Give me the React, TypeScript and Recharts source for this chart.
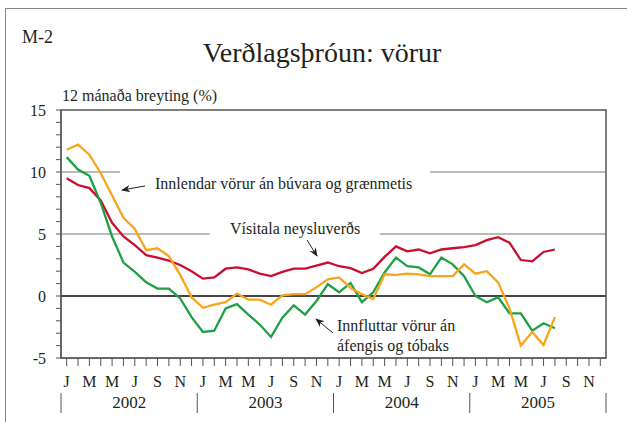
import {
  LineChart,
  Line,
  XAxis,
  YAxis,
  ReferenceLine,
  ReferenceArea,
} from "recharts";

// Jan 2002 .. Aug 2005, 12-month change (%)
const years = ["2002", "2003", "2004", "2005"];
const monthLetters = ["J", "F", "M", "A", "M", "J", "J", "Á", "S", "O", "N", "D"];

const cpi = [
  9.5, 8.95, 8.7, 7.7, 5.9, 4.8, 4.1, 3.3, 3.1, 2.85,
  2.5, 2.0, 1.4, 1.5, 2.2, 2.3, 2.15, 1.8, 1.6, 1.95,
  2.2, 2.2, 2.45, 2.7, 2.4, 2.25, 1.85, 2.2, 3.15, 4.0,
  3.6, 3.75, 3.45, 3.75, 3.85, 3.95, 4.1, 4.5, 4.75, 4.3,
  2.9, 2.8, 3.55, 3.75,
];
const domestic = [
  11.8, 12.2, 11.4, 9.9, 8.1, 6.3, 5.4, 3.7, 3.85, 3.2,
  1.7, -0.1, -0.95, -0.7, -0.5, 0.2, -0.3, -0.3, -0.7, 0.05,
  0.15, 0.15, 0.7, 1.35, 1.5, 0.65, 0.15, -0.25, 1.75, 1.7,
  1.8, 1.75, 1.6, 1.6, 1.6, 2.55, 1.8, 2.0, 1.1, -1.0,
  -4.0, -2.9, -3.95, -1.7,
];
const imported = [
  11.2, 10.2, 9.7, 7.5, 4.8, 2.7, 1.95, 1.1, 0.6, 0.6,
  -0.2, -1.7, -2.9, -2.8, -1.0, -0.65, -1.5, -2.3, -3.3, -1.75,
  -0.75, -1.5, -0.4, 0.95, 0.3, 1.05, -0.5, 0.3, 1.9, 3.1,
  2.4, 2.3, 1.75, 3.1, 2.55, 1.6, 0.0, -0.5, -0.1, -1.4,
  -1.4, -2.8, -2.2, -2.6,
];

const yTicks = Array.from({ length: 21 }, (_, k) => k - 5);
const nMonths = years.length * 12;
const monthTicks = Array.from({ length: nMonths }, (_, k) => k);
const yearTicks = [
  ...years.map((_, k) => k * 12 - 0.5),
  nMonths - 0.5,
  ...years.map((_, k) => k * 12 + 5.5),
];

const data = cpi.map((v, i) => ({
  i,
  cpi: v,
  domestic: domestic[i],
  imported: imported[i],
}));

const ink = "#231f20";
const font = "Liberation Serif, Times New Roman, DejaVu Serif, serif";

function YearTick(props: any) {
  const { x, y, payload } = props;
  const v = payload.value as number;
  if ((v + 0.5) % 12 === 0) {
    return <line x1={x} x2={x} y1={y + 5} y2={y + 25} stroke="#555" strokeWidth={1} />;
  }
  const k = Math.round((v - 5.5) / 12);
  return (
    <text x={x} y={y + 20} textAnchor="middle" fontSize={17} fill={ink} style={{ fontFamily: font }}>
      {years[k]}
    </text>
  );
}

export default function App() {
  return (
    <div
      style={{
        position: "absolute",
        left: 0,
        top: 0,
        width: 627,
        height: 422,
        background: "#fff",
        fontFamily: font,
      }}
    >
      <LineChart
        width={627}
        height={422}
        data={data}
        margin={{ top: 110, right: 21, left: 11, bottom: 4 }}
        style={{ fontFamily: font }}
      >
        <XAxis
          dataKey="i"
          type="number"
          domain={[-0.5, nMonths - 0.5]}
          allowDataOverflow
          ticks={monthTicks}
          interval={0}
          height={30}
          tickSize={8}
          tickMargin={10}
          stroke="#555"
          tickFormatter={(v: number) => (v % 2 === 0 ? monthLetters[v % 12] : "")}
          tick={{ fontSize: 16, fill: ink, style: { fontFamily: font } }}
        />
        <XAxis
          xAxisId="yr"
          dataKey="i"
          type="number"
          domain={[-0.5, nMonths - 0.5]}
          allowDataOverflow
          ticks={yearTicks}
          interval={0}
          height={30}
          axisLine={false}
          tickLine={false}
          tickSize={0}
          tickMargin={0}
          tick={<YearTick />}
        />
        <YAxis
          domain={[-5, 15]}
          ticks={yTicks}
          interval={0}
          width={50}
          tickSize={5}
          tickMargin={10}
          stroke="#555"
          tickFormatter={(v: number) => (v % 5 === 0 ? String(v) : "")}
          tick={{ fontSize: 16, fill: ink, style: { fontFamily: font } }}
        />
        <ReferenceArea
          x1={-0.5}
          x2={nMonths - 0.5}
          y1={-5}
          y2={15}
          fill="none"
          stroke="#555"
          strokeWidth={1.5}
        />
        <ReferenceLine segment={[{ x: -0.5, y: 10 }, { x: 4.7, y: 10 }]} stroke="#777" />
        <ReferenceLine segment={[{ x: 32.0, y: 10 }, { x: nMonths - 0.5, y: 10 }]} stroke="#777" />
        <ReferenceLine segment={[{ x: -0.5, y: 5 }, { x: 12.6, y: 5 }]} stroke="#777" />
        <ReferenceLine segment={[{ x: 27.6, y: 5 }, { x: nMonths - 0.5, y: 5 }]} stroke="#777" />
        <ReferenceLine y={0} stroke="#444" strokeWidth={2} />
        <Line dataKey="cpi" stroke="#c8102e" strokeWidth={2.3} dot={false} isAnimationActive={false} />
        <Line dataKey="imported" stroke="#1fa045" strokeWidth={2.3} dot={false} isAnimationActive={false} />
        <Line dataKey="domestic" stroke="#f9a51a" strokeWidth={2.3} dot={false} isAnimationActive={false} />
      </LineChart>

      <svg
        width={627}
        height={422}
        style={{ position: "absolute", left: 0, top: 0, pointerEvents: "none", fontFamily: font }}
        fill={ink}
      >
        <defs>
          <marker id="ah" viewBox="0 0 10 10" refX="9" refY="5" markerWidth="9" markerHeight="9" orient="auto">
            <path d="M0,1 L10,5 L0,9 L3,5 z" fill={ink} />
          </marker>
        </defs>
        <line x1={5} y1={8.5} x2={627} y2={8.5} stroke="#888" />
        <line x1={5.5} y1={8} x2={5.5} y2={422} stroke="#888" />
        <text x={22} y={43} fontSize={18}>M-2</text>
        <text x={322} y={62} fontSize={28} textAnchor="middle">Verðlagsþróun: vörur</text>
        <text x={62} y={101} fontSize={16}>12 mánaða breyting (%)</text>

        <text x={155} y={189} fontSize={16}>Innlendar vörur án búvara og grænmetis</text>
        <line x1={145} y1={186} x2={122} y2={190} stroke={ink} strokeWidth={1} markerEnd="url(#ah)" />

        <text x={230} y={234} fontSize={16}>Vísitala neysluverðs</text>
        <line x1={307} y1={240} x2={317} y2={256} stroke={ink} strokeWidth={1} markerEnd="url(#ah)" />

        <text x={337} y={331} fontSize={16}>Innfluttar vörur án</text>
        <text x={337} y={351} fontSize={16}>áfengis og tóbaks</text>
        <line x1={333} y1={333} x2={316} y2={319} stroke={ink} strokeWidth={1} markerEnd="url(#ah)" />
      </svg>
    </div>
  );
}
